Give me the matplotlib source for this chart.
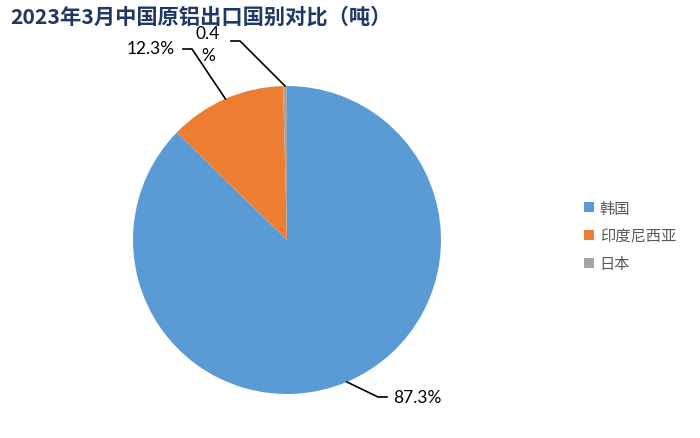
import matplotlib
matplotlib.use("Agg")
import matplotlib.pyplot as plt
import numpy as np

title = "2023年3月中国原铝出口国别对比（吨）"
countries = ["韩国", "印度尼西亚", "日本"]
shares = [87.3, 12.3, 0.4]
labels = ["87.3%", "12.3%", "0.4\n%"]
colors = ["#5B9BD5", "#ED7D31", "#A5A5A5"]

plt.rcParams['font.family'] = ['Noto Sans CJK SC', 'DejaVu Sans']

W, H = 700, 439
fig = plt.figure(figsize=(W / 100, H / 100), dpi=100)
cx, cy, R = 287, 241, 154
ax = fig.add_axes([(cx - R) / W, (H - cy - R) / H, 2 * R / W, 2 * R / H])

wedges, _ = ax.pie(shares, colors=colors, startangle=90, counterclock=False,
                   radius=1.0, wedgeprops=dict(linewidth=0))
ax.set_xlim(-1, 1)
ax.set_ylim(-1, 1)
ax.set_aspect('equal')
ax.axis('off')

def px2d(px, py):
    return (px - cx) / R, (cy - py) / R

# label layout: (elbow px, end px, text anchor px, ha)
layout = [
    ((378, 398), (387, 398), (393, 398), 'left'),
    ((192, 50), (183, 50), (175, 49), 'right'),
    ((240, 42), (231, 42), (208, 45), 'center'),
]
for w, lab, (elb, end, tpos, ha) in zip(wedges, labels, layout):
    ang = np.deg2rad((w.theta1 + w.theta2) / 2)
    x0, y0 = np.cos(ang), np.sin(ang)
    ex, ey = px2d(*elb)
    nx, ny = px2d(*end)
    ax.plot([x0, ex, nx], [y0, ey, ny], color='black', lw=1.2, clip_on=False,
            solid_joinstyle='miter')
    tx, ty = px2d(*tpos)
    ax.text(tx, ty, lab, ha=ha, va='center', fontsize=12.5, color='black',
            family=['Lato', 'DejaVu Sans'], linespacing=1.5, clip_on=False)

fig.text(10 / W, 1 - 17 / H, title, ha='left', va='center', fontsize=15.3,
         fontweight='bold', color='#1F3864')

leg = fig.legend(wedges, countries, loc='upper left',
                 bbox_to_anchor=(570 / W, 1 - 187 / H), frameon=False,
                 fontsize=11, handlelength=0.65, handleheight=0.65,
                 handletextpad=0.4, labelspacing=0.7, labelcolor='#595959')

fig.savefig("out.png", dpi=100)
